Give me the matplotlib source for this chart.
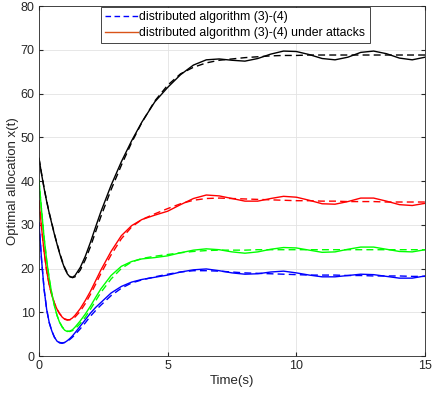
import matplotlib.pyplot as plt
from matplotlib.lines import Line2D

plt.rcParams['font.family'] = ['Liberation Sans', 'DejaVu Sans']

t = [0, 0.1, 0.2, 0.3, 0.4, 0.5, 0.6, 0.7, 0.8, 0.9, 1.0, 1.1, 1.2, 1.3, 1.4,
     1.6, 1.8, 2.0, 2.2, 2.4, 2.8, 3.2, 3.6, 4.0,
     4.5, 5.0, 5.5, 6.0, 6.5, 7.0, 7.5, 8.0, 8.5, 9.0, 9.5, 10.0, 10.5,
     11.0, 11.5, 12.0, 12.5, 13.0, 13.5, 14.0, 14.5, 15.0]

# nominal (dashed)
black_nom = [45.2, 41.7, 38.4, 35.4, 32.7, 30.3, 27.9, 25.7, 23.7, 21.8,
             20.2, 19.0, 18.2, 17.9, 18.1,
             19.6, 22.0, 25.0, 28.4, 31.8, 38.0, 43.6, 48.8, 53.4,
             58.3, 61.9, 64.5, 66.0, 67.0, 67.6, 67.9, 68.2, 68.4, 68.6, 68.7,
             68.7, 68.8, 68.8, 68.8, 68.8, 68.8, 68.8, 68.8, 68.8, 68.8, 68.8]
red_nom = [35.5, 29.3, 23.8, 19.4, 16.2, 13.9, 12.1, 10.7, 9.7, 9.0,
           8.5, 8.3, 8.3, 8.5, 8.9,
           10.2, 12.0, 14.1, 16.4, 18.8, 23.1, 26.8, 29.5, 31.2,
           32.5, 33.7, 34.8, 35.6, 36.0, 36.1, 36.0, 35.9, 35.8, 35.7, 35.6,
           35.5, 35.5, 35.4, 35.4, 35.3, 35.3, 35.3, 35.2, 35.2, 35.2, 35.2]
green_nom = [40.2, 33.3, 27.0, 21.8, 17.6, 14.2, 11.5, 9.3, 7.8, 6.7,
             6.0, 5.7, 5.6, 5.8, 6.2,
             7.4, 8.9, 10.7, 12.6, 14.5, 17.6, 20.0, 21.5, 22.3,
             22.8, 23.2, 23.6, 23.9, 24.1, 24.2, 24.2, 24.2, 24.3, 24.3, 24.3,
             24.3, 24.3, 24.3, 24.3, 24.3, 24.3, 24.3, 24.3, 24.3, 24.3, 24.3]
blue_nom = [30.5, 22.0, 15.2, 10.6, 7.6, 5.7, 4.3, 3.5, 3.1, 3.0,
            3.1, 3.4, 3.8, 4.3, 4.9,
            6.2, 7.6, 9.1, 10.4, 11.6, 13.8, 15.5, 16.7, 17.4,
            18.1, 18.7, 19.2, 19.5, 19.5, 19.4, 19.2, 19.0, 18.9, 18.8, 18.7,
            18.6, 18.5, 18.5, 18.5, 18.4, 18.4, 18.3, 18.3, 18.3, 18.2, 18.2]

# under attacks (solid)
black_att = [45.2, 41.6, 38.3, 35.3, 32.6, 30.2, 27.8, 25.6, 23.5, 21.6,
             20.0, 18.8, 18.1, 18.0, 18.4,
             20.2, 22.8, 26.0, 29.5, 32.9, 39.0, 44.4, 49.2, 53.5,
             58.1, 61.4, 64.3, 66.5, 67.7, 67.9, 67.6, 67.4, 68.0, 69.0, 69.7,
             69.6, 68.9, 68.0, 67.7, 68.3, 69.4, 69.7, 69.1, 68.1, 67.7, 68.3]
red_att = [35.5, 29.3, 23.8, 19.4, 16.2, 13.9, 12.1, 10.7, 9.7, 8.9,
           8.4, 8.2, 8.3, 8.7, 9.3,
           10.8, 12.7, 14.8, 17.2, 19.6, 23.9, 27.5, 29.8, 31.2,
           32.2, 33.1, 34.6, 36.0, 36.8, 36.6, 36.0, 35.4, 35.4, 36.0, 36.5,
           36.3, 35.6, 34.8, 34.7, 35.3, 36.1, 36.1, 35.4, 34.6, 34.4, 34.9]
green_att = [40.2, 33.3, 27.0, 21.8, 17.6, 14.2, 11.5, 9.3, 7.7, 6.6,
             5.9, 5.6, 5.7, 6.0, 6.6,
             8.0, 9.6, 11.4, 13.4, 15.3, 18.4, 20.5, 21.6, 22.2,
             22.5, 22.9, 23.6, 24.2, 24.5, 24.3, 23.8, 23.5, 23.8, 24.4, 24.8,
             24.7, 24.2, 23.7, 23.8, 24.4, 24.9, 24.9, 24.4, 23.9, 23.8, 24.3]
blue_att = [30.5, 22.0, 15.2, 10.6, 7.6, 5.7, 4.3, 3.4, 3.0, 2.9,
            3.1, 3.5, 4.0, 4.6, 5.3,
            6.8, 8.3, 9.8, 11.1, 12.2, 14.4, 15.9, 16.9, 17.5,
            18.0, 18.5, 19.2, 19.7, 19.9, 19.5, 19.0, 18.7, 18.8, 19.2, 19.4,
            19.0, 18.5, 18.1, 18.1, 18.4, 18.7, 18.6, 18.2, 17.8, 17.8, 18.3]

legend_labels = ['distributed algorithm (3)-(4)',
                 'distributed algorithm (3)-(4) under attacks']

fig = plt.figure(figsize=(4.36, 3.93), dpi=100)
ax = fig.add_axes([0.0894, 0.0941, 0.8856, 0.8906])

nominal = [(black_nom, 'k'), (red_nom, 'r'), (green_nom, '#00ff00'), (blue_nom, 'b')]
attacked = [(black_att, 'k'), (red_att, 'r'), (green_att, '#00ff00'), (blue_att, 'b')]

for y, c in nominal:
    ax.plot(t, y, color=c, lw=1.0, ls=(0, (5, 3)))
for y, c in attacked:
    ax.plot(t, y, color=c, lw=1.0)

ax.set_xlim(0, 15)
ax.set_ylim(0, 80)
ax.set_xticks([0, 5, 10, 15])
ax.set_yticks(range(0, 90, 10))
ax.grid(True, color='#e3e3e3', lw=0.6)
ax.set_axisbelow(True)
ax.tick_params(direction='in', length=3, labelsize=9, colors='#262626',
               top=True, right=True, pad=3)
for s in ax.spines.values():
    s.set_color('#262626')
    s.set_linewidth(0.6)

ax.set_xlabel('Time(s)', fontsize=9.5, color='#262626', labelpad=2)
ax.set_ylabel('Optimal allocation x(t)', fontsize=9.5, color='#262626', labelpad=1)

handles = [Line2D([], [], color='b', lw=1.0, ls=(0, (4, 2.5))),
           Line2D([], [], color='#d95319', lw=1.0)]
leg = ax.legend(handles, legend_labels, loc='upper left',
                bbox_to_anchor=(0.16, 0.997), borderaxespad=0,
                fontsize=8.8, fancybox=False, framealpha=1,
                edgecolor='#262626', handlelength=2.7, handletextpad=0.1,
                borderpad=0.35, labelspacing=0.3)
leg.get_frame().set_linewidth(0.6)

fig.savefig('out.png', dpi=100)
